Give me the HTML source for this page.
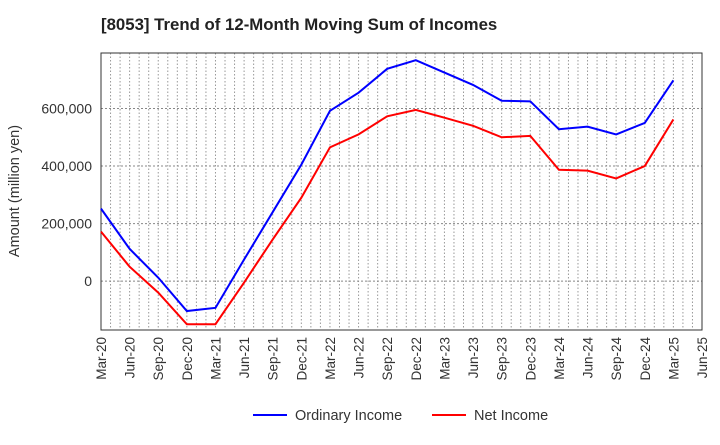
<!DOCTYPE html>
<html><head><meta charset="utf-8"><style>
body{margin:0;background:#fff;font-family:"Liberation Sans",sans-serif;}
</style></head><body>
<svg id="c" width="720" height="440" xmlns="http://www.w3.org/2000/svg">
<text x="101" y="30" font-size="16.8" font-weight="bold" fill="#222">[8053]  Trend of 12-Month Moving Sum of Incomes</text>
<g id="grid"></g>
<g id="axes"></g>
<g id="series"></g>
<text transform="translate(19,191) rotate(-90)" text-anchor="middle" font-size="14.5" fill="#333">Amount (million yen)</text>
<g>
<line x1="253" y1="415" x2="287" y2="415" stroke="#0000ff" stroke-width="2"/>
<text x="295" y="420" font-size="14.5" fill="#333">Ordinary Income</text>
<line x1="432" y1="415" x2="466" y2="415" stroke="#ff0000" stroke-width="2"/>
<text x="474" y="420" font-size="14.5" fill="#333">Net Income</text>
</g>
</svg>
<script>
const xLabels=["Mar-20","Jun-20","Sep-20","Dec-20","Mar-21","Jun-21","Sep-21","Dec-21","Mar-22","Jun-22","Sep-22","Dec-22","Mar-23","Jun-23","Sep-23","Dec-23","Mar-24","Jun-24","Sep-24","Dec-24","Mar-25","Jun-25"];
const ordinaryIncome=[252000,112000,12000,-104000,-93000,75000,240000,405000,592000,655000,738000,768000,725000,682000,627000,625000,528000,537000,510000,550000,698000];
const netIncome=[172000,50000,-40000,-150000,-150000,-5000,145000,290000,465000,510000,573000,595000,568000,540000,500000,505000,387000,384000,357000,400000,562000];
const yTicks=[0,200000,400000,600000];
const yTickLabels=["0","200,000","400,000","600,000"];
const L=101,R=702,T=53,B=330,yMin=-170000,yMax=793000;
const NS="http://www.w3.org/2000/svg";
const xs=i=>L+i*(R-L)/(xLabels.length-1);
const ys=v=>B-(v-yMin)/(yMax-yMin)*(B-T);
function mk(tag,attrs,parent){const e=document.createElementNS(NS,tag);for(const k in attrs)e.setAttribute(k,attrs[k]);document.getElementById(parent).appendChild(e);return e;}
const months=(xLabels.length-1)*3;
for(let m=1;m<months;m++){const x=L+m*(R-L)/months;
 const g=mk('line',{x1:x,x2:x,y1:T,y2:B,stroke:'#999','stroke-dasharray':'1.5,2','stroke-width':1},'grid');
 
 }
yTicks.forEach((v,i)=>{const y=ys(v);
 const g=mk('line',{x1:L,x2:R,y1:y,y2:y,stroke:'#888','stroke-dasharray':'2,2','stroke-width':1},'grid');
 
 
 const t=mk('text',{x:L-9,y:y+5,'text-anchor':'end','font-size':14,fill:'#333'},'axes');
 
 
 t.textContent=yTickLabels[i];});
xLabels.forEach((lab,i)=>{const x=xs(i);
 const t=mk('text',{transform:`translate(${x+5},${B+7}) rotate(-90)`,'text-anchor':'end','font-size':13.5,fill:'#333'},'axes');
 
 
 t.textContent=lab;});
const fr=mk('rect',{x:L,y:T,width:R-L,height:B-T,fill:'none',stroke:'#333','stroke-width':1},'axes');


function line(data,color,name){const p=mk('polyline',{points:data.map((v,i)=>xs(i)+','+ys(v)).join(' '),fill:'none',stroke:color,'stroke-width':2},'series');
 
 }
line(ordinaryIncome,'#0000ff','ordinary-income-line');
line(netIncome,'#ff0000','net-income-line');
</script>
</body></html>
